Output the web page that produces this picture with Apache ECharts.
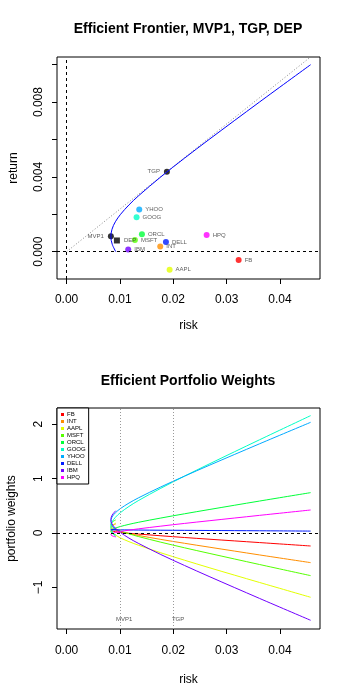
<!DOCTYPE html>
<html>
<head>
<meta charset="utf-8">
<script src="https://cdn.jsdelivr.net/npm/echarts@6/dist/echarts.min.js"></script>
<style>
html,body{margin:0;padding:0;background:#fff;}
#c{width:350px;height:700px;}
</style>
</head>
<body>
<div id="c"></div>
<script>
// ---- data ----
var frontierReturn = [0, 0.0004, 0.0008, 0.0012, 0.0016, 0.002, 0.0025, 0.003, 0.004, 0.005, 0.006, 0.008, 0.010];
var frontierRisk   = [0.00922, 0.00855, 0.0083, 0.00851, 0.00914, 0.01012, 0.01169, 0.01353, 0.01766, 0.0221, 0.02671, 0.03615, 0.04575];

var tangentRisk   = [0, 0.0455];
var tangentReturn = [0, 0.01036];

var assetNames  = ['FB','INT','AAPL','MSFT','ORCL','GOOG','YHOO','DELL','IBM','HPQ'];
var assetColors = ['#FF0000','#FF8E00','#E3FF00','#55FF00','#00FF39','#00FFC6','#00AAFF','#001CFF','#7100FF','#FF00FF'];
var assetRisk   = [0.03225, 0.01755, 0.01931, 0.0128, 0.01412, 0.01312, 0.01362, 0.01862, 0.01155, 0.02625];
var assetReturn = [-0.00044, 0.00028, -0.00096, 0.00062, 0.00093, 0.00184, 0.00225, 0.00052, 0.00012, 0.00089];

var specialNames  = ['MVP1', 'TGP', 'DEP'];
var specialRisk   = [0.0083, 0.0188, 0.00943];
var specialReturn = [0.00082, 0.00428, 0.00060];

// portfolio weights along the frontier (same points as frontierRisk)
var wFB   = [0.074, 0.061, 0.049, 0.036, 0.024, 0.011, -0.005, -0.020, -0.051, -0.083, -0.114, -0.176, -0.239];
var wINT  = [0.167, 0.139, 0.110, 0.082, 0.053, 0.025, -0.011, -0.046, -0.118, -0.189, -0.260, -0.403, -0.545];
var wAAPL = [0.182, 0.127, 0.073, 0.018, -0.036, -0.091, -0.159, -0.227, -0.364, -0.500, -0.637, -0.909, -1.182];
var wMSFT = [0.241, 0.200, 0.159, 0.118, 0.077, 0.036, -0.015, -0.067, -0.169, -0.272, -0.374, -0.579, -0.784];
var wORCL = [-0.036, -0.005, 0.026, 0.058, 0.089, 0.120, 0.159, 0.198, 0.275, 0.353, 0.431, 0.587, 0.742];
var wGOOG = [-0.069, 0.021, 0.110, 0.199, 0.288, 0.377, 0.488, 0.600, 0.822, 1.045, 1.268, 1.713, 2.158];
var wYHOO = [0.055, 0.134, 0.213, 0.292, 0.371, 0.451, 0.550, 0.649, 0.847, 1.045, 1.243, 1.639, 2.035];
var wDELL = [0.062, 0.061, 0.060, 0.059, 0.058, 0.057, 0.056, 0.054, 0.051, 0.049, 0.046, 0.041, 0.035];
var wIBM  = [0.410, 0.330, 0.249, 0.168, 0.088, 0.007, -0.094, -0.194, -0.396, -0.597, -0.799, -1.202, -1.605];
var wHPQ  = [-0.072, -0.052, -0.032, -0.012, 0.008, 0.027, 0.052, 0.077, 0.126, 0.176, 0.225, 0.324, 0.423];
var weights = [wFB, wINT, wAAPL, wMSFT, wORCL, wGOOG, wYHOO, wDELL, wIBM, wHPQ];

var xTicks = [0, 0.01, 0.02, 0.03, 0.04];
var yTicksTop = [0, 0.002, 0.004, 0.006, 0.008, 0.010];
var yLabelsTop = [0, 0.004, 0.008];
var yTicksBottom = [-1, 0, 1, 2];

// ---- chart ----
var FONT = 'Liberation Sans, Arial, Helvetica, sans-serif';
var chart = echarts.init(document.getElementById('c'), null, {renderer: 'canvas'});

function zip(a, b) { return a.map(function (v, i) { return [v, b[i]]; }); }

function xAxisDef(gridIndex, nameGap, labelMargin) {
  return {
    type: 'value', gridIndex: gridIndex, min: -0.0018, max: 0.0475,
    name: 'risk', nameLocation: 'middle', nameGap: nameGap,
    nameTextStyle: {fontFamily: FONT, fontSize: 12, color: '#000'},
    axisLine: {show: false, onZero: false},
    axisTick: {show: true, length: 5, inside: false, customValues: xTicks, lineStyle: {color: '#000'}},
    axisLabel: {customValues: xTicks, margin: labelMargin, fontFamily: FONT, fontSize: 12, color: '#000',
      formatter: function (v) { return v.toFixed(2); }},
    splitLine: {show: false}
  };
}

var option = {
  animation: false,
  backgroundColor: '#fff',
  title: [
    {text: 'Efficient Frontier, MVP1, TGP, DEP', left: 188, textAlign: 'center', top: 22, padding: 0,
      textStyle: {fontFamily: FONT, fontSize: 14, fontWeight: 'bold', color: '#000'}},
    {text: 'Efficient Portfolio Weights', left: 188, textAlign: 'center', top: 374, padding: 0,
      textStyle: {fontFamily: FONT, fontSize: 14, fontWeight: 'bold', color: '#000'}}
  ],
  legend: {
    data: assetNames, orient: 'vertical', left: 57, top: 408, icon: 'rect',
    itemWidth: 3, itemHeight: 3, itemGap: 0, padding: [3, 3, 3, 4],
    borderColor: '#000', borderWidth: 1, backgroundColor: '#fff', selectedMode: false,
    textStyle: {fontFamily: FONT, fontSize: 6, color: '#000', lineHeight: 7, padding: [0, 0, 0, -2]}
  },
  grid: [
    {left: 57, right: 30, top: 57, height: 222, show: true, borderColor: '#000', borderWidth: 1,
      backgroundColor: 'transparent', outerBoundsMode: 'none', containLabel: false},
    {left: 57, right: 30, top: 408, height: 221, show: true, borderColor: '#000', borderWidth: 1,
      backgroundColor: 'transparent', outerBoundsMode: 'none', containLabel: false}
  ],
  xAxis: [xAxisDef(0, 41, 15), xAxisDef(1, 45, 16)],
  yAxis: [
    {type: 'value', gridIndex: 0, min: -0.00146, max: 0.01041,
      name: 'return', nameLocation: 'middle', nameGap: 37, nameRotate: 90,
      nameTextStyle: {fontFamily: FONT, fontSize: 12, color: '#000'},
      axisLine: {show: false, onZero: false},
      axisTick: {show: true, length: 5, inside: false, customValues: yTicksTop, lineStyle: {color: '#000'}},
      axisLabel: {customValues: yLabelsTop, rotate: 90, margin: 12, fontFamily: FONT, fontSize: 12, color: '#000',
        formatter: function (v) { return v.toFixed(3); }},
      splitLine: {show: false}},
    {type: 'value', gridIndex: 1, min: -1.765, max: 2.298,
      name: 'portfolio weights', nameLocation: 'middle', nameGap: 39, nameRotate: 90,
      nameTextStyle: {fontFamily: FONT, fontSize: 12, color: '#000'},
      axisLine: {show: false, onZero: false},
      axisTick: {show: true, length: 5, inside: false, customValues: yTicksBottom, lineStyle: {color: '#000'}},
      axisLabel: {customValues: yTicksBottom, rotate: 90, margin: 12, fontFamily: FONT, fontSize: 12, color: '#000',
        formatter: function (v) { return String(v).replace('-', '\u2212'); }},
      splitLine: {show: false}}
  ],
  series: []
};

// top: tangent (dotted)
option.series.push({
  type: 'line', xAxisIndex: 0, yAxisIndex: 0, data: zip(tangentRisk, tangentReturn),
  showSymbol: false, symbol: 'none', silent: true,
  lineStyle: {color: '#888', width: 1, type: [1, 2]}
});
// top: frontier
option.series.push({
  type: 'line', xAxisIndex: 0, yAxisIndex: 0, data: zip(frontierRisk, frontierReturn),
  showSymbol: false, symbol: 'none', smooth: 0.35, silent: true,
  lineStyle: {color: '#0000FF', width: 1},
  markLine: {
    silent: true, symbol: 'none', label: {show: false},
    lineStyle: {color: '#000', width: 1, type: [3, 3]},
    data: [{xAxis: 0}, {yAxis: 0}]
  }
});
// top: assets
option.series.push({
  type: 'scatter', xAxisIndex: 0, yAxisIndex: 0, symbolSize: 6, silent: true,
  data: assetNames.map(function (n, i) {
    return {name: n, value: [assetRisk[i], assetReturn[i]], itemStyle: {color: assetColors[i]}};
  }),
  label: {show: true, position: 'right', distance: 3, formatter: '{b}', fontFamily: FONT, fontSize: 6, color: '#333'}
});
// top: special portfolios
option.series.push({
  type: 'scatter', xAxisIndex: 0, yAxisIndex: 0, symbolSize: 6, silent: true,
  data: specialNames.map(function (n, i) {
    return {name: n, value: [specialRisk[i], specialReturn[i]],
      symbol: n === 'DEP' ? 'rect' : 'circle',
      label: {position: n === 'DEP' ? 'right' : 'left'}};
  }),
  itemStyle: {color: '#000'},
  label: {show: true, distance: 4, formatter: '{b}', fontFamily: FONT, fontSize: 6, color: '#333'}
});

// bottom: weights
assetNames.forEach(function (n, i) {
  var s = {
    type: 'line', name: n, xAxisIndex: 1, yAxisIndex: 1, data: zip(frontierRisk, weights[i]),
    showSymbol: false, symbol: 'none', smooth: 0.35, silent: true,
    color: assetColors[i], lineStyle: {color: assetColors[i], width: 1}
  };
  if (i === 0) {
    s.markLine = {
      silent: true, symbol: 'none', label: {show: false},
      data: [
        {yAxis: 0, lineStyle: {color: '#000', width: 1, type: [3, 3]}},
        {xAxis: specialRisk[0], lineStyle: {color: '#999', width: 1, type: [1, 2]}},
        {xAxis: specialRisk[1], lineStyle: {color: '#999', width: 1, type: [1, 2]}}
      ]
    };
    s.markPoint = {
      silent: true, symbol: 'circle', symbolSize: 0,
      label: {show: true, position: 'right', distance: 5, formatter: '{b}', fontFamily: FONT, fontSize: 6, color: '#555'},
      data: [
        {name: 'MVP1', coord: [specialRisk[0], -1.59]},
        {name: 'TGP', coord: [specialRisk[1], -1.59]}
      ]
    };
  }
  option.series.push(s);
});

chart.setOption(option);
</script>
</body>
</html>
